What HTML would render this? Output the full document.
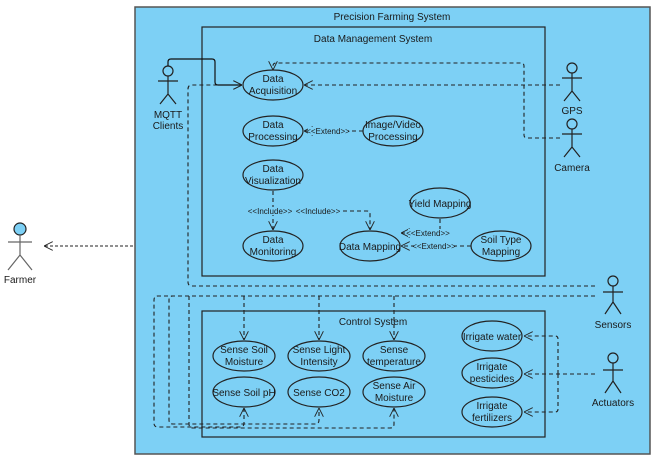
<!DOCTYPE html>
<html><head><style>body{margin:0;background:#fff}svg{display:block}text{font-family:"Liberation Sans",sans-serif;font-size:10px;fill:#1a1a1a}</style></head><body>
<svg width="668" height="466" xmlns="http://www.w3.org/2000/svg">
<defs>
<marker id="a" viewBox="0 0 10 10" refX="10" refY="5" markerWidth="9" markerHeight="9" orient="auto" markerUnits="userSpaceOnUse"><path d="M0,0L10,5L0,10" fill="none" stroke="#222" stroke-width="1"/></marker>
</defs>
<rect x="135" y="7" width="515" height="447" fill="#7dd0f5" stroke="#555" stroke-width="1.5"/>
<text x="392" y="20" text-anchor="middle">Precision Farming System</text>
<rect x="202" y="27" width="343" height="249" fill="none" stroke="#222" stroke-width="1.2"/>
<text x="373" y="42" text-anchor="middle">Data Management System</text>
<rect x="202" y="311" width="343" height="126" fill="none" stroke="#222" stroke-width="1.2"/>
<text x="373" y="325" text-anchor="middle">Control System</text>
<g fill="none" stroke="#222" stroke-width="1.2">
<ellipse cx="273" cy="85" rx="30" ry="15"/><ellipse cx="273" cy="131" rx="30" ry="15"/>
<ellipse cx="393" cy="131" rx="30" ry="15"/><ellipse cx="273" cy="175" rx="30" ry="15"/>
<ellipse cx="273" cy="246" rx="30" ry="15"/><ellipse cx="370" cy="246" rx="30" ry="15"/>
<ellipse cx="440" cy="203" rx="30" ry="15"/><ellipse cx="501" cy="246" rx="30" ry="15"/>
<ellipse cx="244" cy="356" rx="31" ry="15"/><ellipse cx="319" cy="356" rx="31" ry="15"/><ellipse cx="394" cy="356" rx="31" ry="15"/>
<ellipse cx="244" cy="392" rx="31" ry="15"/><ellipse cx="319" cy="392" rx="31" ry="15"/><ellipse cx="394" cy="392" rx="31" ry="15"/>
<ellipse cx="492" cy="336" rx="30" ry="15"/><ellipse cx="492" cy="373" rx="30" ry="15"/><ellipse cx="492" cy="412" rx="30" ry="15"/>
</g>
<g text-anchor="middle">
<text x="273" y="82">Data</text><text x="273" y="94">Acquisition</text>
<text x="273" y="128">Data</text><text x="273" y="140">Processing</text>
<text x="393" y="128">Image/Video</text><text x="393" y="140">Processing</text>
<text x="273" y="172">Data</text><text x="273" y="184">Visualization</text>
<text x="273" y="243">Data</text><text x="273" y="255">Monitoring</text>
<text x="370" y="250">Data Mapping</text>
<text x="440" y="207">Yield Mapping</text>
<text x="501" y="243">Soil Type</text><text x="501" y="255">Mapping</text>
<text x="244" y="353">Sense Soil</text><text x="244" y="365">Moisture</text>
<text x="319" y="353">Sense Light</text><text x="319" y="365">Intensity</text>
<text x="394" y="353">Sense</text><text x="394" y="365">temperature</text>
<text x="244" y="396">Sense Soil pH</text><text x="319" y="396">Sense CO2</text>
<text x="394" y="389">Sense Air</text><text x="394" y="401">Moisture</text>
<text x="492" y="340">Irrigate water</text>
<text x="492" y="370">Irrigate</text><text x="492" y="382">pesticides</text>
<text x="492" y="409">Irrigate</text><text x="492" y="421">fertilizers</text>
<text x="168" y="118">MQTT</text><text x="168" y="129">Clients</text>
<text x="572" y="114">GPS</text><text x="572" y="171">Camera</text>
<text x="613" y="328">Sensors</text><text x="613" y="406">Actuators</text>
<text x="20" y="283">Farmer</text>
</g>
<g fill="none" stroke="#222" stroke-width="1.2">
<circle cx="168" cy="71" r="5"/><path d="M168,76V94M158,81H178M168,94L160,104M168,94L176,104"/>
<circle cx="572" cy="68" r="5"/><path d="M572,73V91M562,78H582M572,91L564,101M572,91L580,101"/>
<circle cx="572" cy="124" r="5"/><path d="M572,129V147M562,134H582M572,147L564,157M572,147L580,157"/>
<circle cx="613" cy="281" r="5"/><path d="M613,286V302M603,292H623M613,302L605,314M613,302L621,314"/>
<circle cx="613" cy="358" r="5"/><path d="M613,363V381M603,370H623M613,381L605,393M613,381L621,393"/>
<circle cx="20" cy="229" r="6" fill="#7dd0f5"/><path d="M20,235V255M8,242H32M20,255L8,270M20,255L32,270" stroke="#666"/>
</g>
<g fill="none" stroke="#222" stroke-width="1.1" stroke-dasharray="4,3">
<path d="M133,246H44" marker-end="url(#a)" stroke-dasharray="3,2"/>
<path d="M560,85H304" marker-end="url(#a)"/>
<path d="M560,138H527Q524,138 524,135V66Q524,63 521,63H276Q273,63 273,66V70" marker-end="url(#a)"/>
<path d="M595,286H192Q188,286 188,282V89Q188,85 192,85H242" marker-end="url(#a)"/>
<path d="M595,296H158Q154,296 154,300V423Q154,427 158,427H240Q244,427 244,423V408" marker-end="url(#a)"/>
<path d="M595,296H173Q169,296 169,300V420Q169,424 173,424H315Q319,424 319,420V408" marker-end="url(#a)"/>
<path d="M189,296V424Q189,428 193,428H390Q394,428 394,424V408" marker-end="url(#a)"/>
<path d="M244,296V340" marker-end="url(#a)"/><path d="M319,296V340" marker-end="url(#a)"/><path d="M394,296V340" marker-end="url(#a)"/>
<path d="M595,374H524" marker-end="url(#a)"/>
<path d="M558,374V339Q558,336 555,336H524" marker-end="url(#a)"/>
<path d="M558,374V409Q558,412 555,412H524" marker-end="url(#a)"/>
<path d="M363,131H304" marker-end="url(#a)"/>
<path d="M440,219V233H401" marker-end="url(#a)"/>
<path d="M471,246H401" marker-end="url(#a)"/>
<path d="M273,191V230" marker-end="url(#a)"/>
<path d="M273,211H367Q370,211 370,214V230" marker-end="url(#a)"/>
</g>
<path d="M168,66V62Q168,59 171,59H212Q215,59 215,62V82Q215,85 218,85H242" fill="none" stroke="#111" stroke-width="1.2" marker-end="url(#a)"/>
<g font-size="8" style="font-size:8px" text-anchor="middle">
<rect x="308" y="127" width="40" height="8" fill="#7dd0f5"/><text x="328" y="134" style="font-size:8px">&lt;&lt;Extend&gt;&gt;</text>
<rect x="250" y="207" width="92" height="8" fill="#7dd0f5"/><text x="270" y="214" style="font-size:8px">&lt;&lt;Include&gt;&gt;</text><text x="318" y="214" style="font-size:8px">&lt;&lt;Include&gt;&gt;</text>
<rect x="408" y="229" width="40" height="8" fill="#7dd0f5"/><text x="428" y="236" style="font-size:8px">&lt;&lt;Extend&gt;&gt;</text>
<rect x="414" y="242" width="40" height="8" fill="#7dd0f5"/><text x="434" y="249" style="font-size:8px">&lt;&lt;Extend&gt;&gt;</text>
</g>
</svg>
</body></html>
